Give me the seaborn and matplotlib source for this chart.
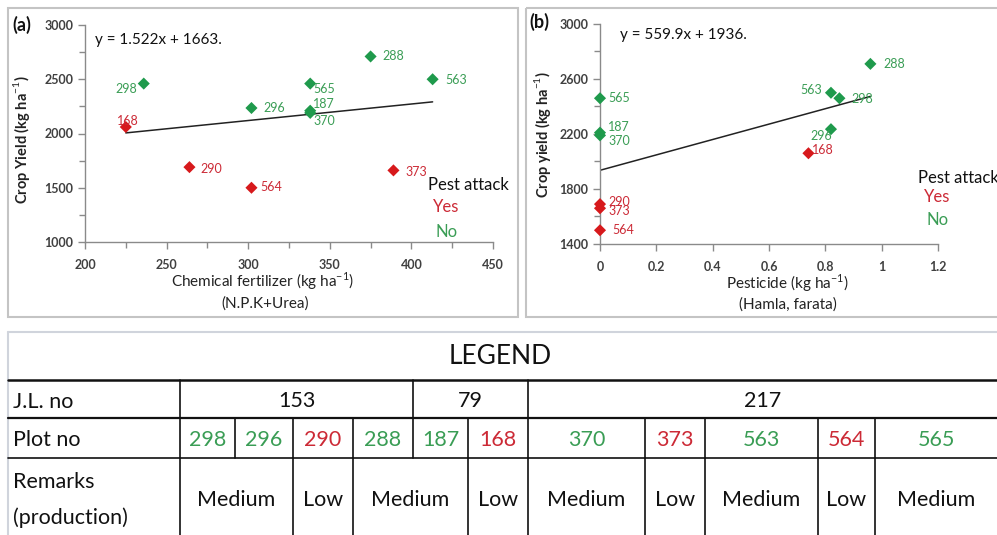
import matplotlib
matplotlib.use('Agg')
import matplotlib.pyplot as plt
import seaborn as sns
import pandas as pd
from matplotlib.ticker import MultipleLocator
from matplotlib.patches import Rectangle

# data
plots = ['298', '296', '290', '288', '187', '168', '370', '373', '563', '564', '565']
fertilizer = [236, 302, 264, 375, 338, 225, 338, 389, 413, 302, 338]
pesticide = [0.85, 0.82, 0, 0.96, 0, 0.74, 0, 0, 0.82, 0, 0]
crop_yield = [2460, 2235, 1690, 2710, 2210, 2060, 2190, 1660, 2500, 1500, 2460]
pest_attack = ['No', 'No', 'Yes', 'No', 'No', 'Yes', 'No', 'Yes', 'No', 'Yes', 'No']
fit_a = (1.522, 1663)
fit_b = (559.9, 1936)

jl_groups = [('153', 4), ('79', 2), ('217', 5)]
remarks = [('Medium', 2), ('Low', 1), ('Medium', 2), ('Low', 1), ('Medium', 1),
           ('Low', 1), ('Medium', 1), ('Low', 1), ('Medium', 1)]

df = pd.DataFrame({'plot': plots, 'fert': fertilizer, 'pest': pesticide,
                   'yield': crop_yield, 'attack': pest_attack})

GREEN = '#1f9a4c'
RED = '#d7191c'
TGREEN = '#3a9d55'
TRED = '#cc2a36'
palette = {'No': GREEN, 'Yes': RED}

sns.set_theme(style='white')
plt.rcParams['font.family'] = ['Lato', 'DejaVu Sans']
plt.rcParams['mathtext.fontset'] = 'custom'
plt.rcParams['mathtext.rm'] = 'Lato'
plt.rcParams['mathtext.bf'] = 'Lato:bold'

W, H = 997, 535
fig = plt.figure(figsize=(W / 100, H / 100), dpi=100)


def px_axes(l, t, r, b):
    return fig.add_axes([l / W, 1 - b / H, (r - l) / W, (b - t) / H])


# overlay for frames, table and free text (pixel coords)
ov = fig.add_axes([0, 0, 1, 1], zorder=-1)
ov.set_xlim(0, W)
ov.set_ylim(H, 0)
ov.axis('off')

ax1 = px_axes(85, 25, 493, 242)
ax2 = px_axes(600, 24, 938, 244)

# label offsets in pixels (dx, dy, ha)
off_a = {'298': (-7, -5, 'right'), '296': (12, 0, 'left'), '290': (11, -2, 'left'),
         '288': (12, 0, 'left'), '187': (3, 7, 'left'), '168': (2, 6, 'center'),
         '370': (3, -8, 'left'), '373': (12, -2, 'left'), '563': (13, -1, 'left'),
         '564': (9, 1, 'left'), '565': (3, -5, 'left')}
off_b = {'298': (12, -1, 'left'), '296': (1, -7, 'right'), '290': (8, 2, 'left'),
         '288': (13, 0, 'left'), '187': (8, 6, 'left'), '168': (4, 3, 'left'),
         '370': (8, -6, 'left'), '373': (8, -3, 'left'), '563': (-9, 3, 'right'),
         '564': (12, 0, 'left'), '565': (8, 0, 'left')}

for ax, xcol, fit, offs in [(ax1, 'fert', fit_a, off_a), (ax2, 'pest', fit_b, off_b)]:
    sns.scatterplot(data=df, x=xcol, y='yield', hue='attack', palette=palette,
                    marker='D', s=38, edgecolor='none', legend=False, ax=ax, zorder=3,
                    clip_on=False)
    xs = [df[xcol].min(), df[xcol].max()]
    ax.plot(xs, [fit[0] * v + fit[1] for v in xs], color='#222222', lw=1.1, zorder=2)
    for _, r in df.iterrows():
        dx, dy, ha = offs[r['plot']]
        ax.annotate(r['plot'], (r[xcol], r['yield']), xytext=(dx, dy),
                    textcoords='offset pixels', ha=ha, va='center', fontsize=9,
                    color=TGREEN if r['attack'] == 'No' else TRED, zorder=4)
    for s in ['top', 'right']:
        ax.spines[s].set_visible(False)
    for s in ['left', 'bottom']:
        ax.spines[s].set_color('#8a8a8a')
        ax.spines[s].set_linewidth(1.0)
    ax.tick_params(which='both', direction='out', color='#8a8a8a', left=True, bottom=True)
    ax.tick_params(which='major', length=5, width=1, labelsize=9, labelcolor='#404040')
    ax.tick_params(which='minor', length=4, width=1)
    ax.tick_params(axis='x', pad=7)
    ax.set_xlabel('')
    ax.set_ylabel('')
    ax.grid(False)
    ax.patch.set_alpha(0)

ax1.set_xlim(200, 450)
ax1.set_ylim(1000, 3000)
ax1.xaxis.set_major_locator(MultipleLocator(50))
ax1.xaxis.set_minor_locator(MultipleLocator(25))
ax1.yaxis.set_major_locator(MultipleLocator(500))
ax1.yaxis.set_minor_locator(MultipleLocator(250))

ax2.set_xlim(0, 1.2)
ax2.set_ylim(1400, 3000)
ax2.set_yticks([1400, 1800, 2200, 2600, 3000])
ax2.set_yticks([1600, 2000, 2400, 2800], minor=True)
ax2.set_xticks([0, 0.2, 0.4, 0.6, 0.8, 1.0, 1.2])
ax2.set_xticklabels(['0', '0.2', '0.4', '0.6', '0.8', '1', '1.2'])
for ax in (ax1, ax2):
    for lab in ax.get_xticklabels() + ax.get_yticklabels():
        lab.set_fontweight('bold')

# panel frames
ov.add_patch(Rectangle((8, 8), 510, 309, fill=False, ec='#c4c4c4', lw=1.5))
ov.add_patch(Rectangle((526, 8), 480, 309, fill=False, ec='#c4c4c4', lw=1.5))

# panel texts
ov.text(12, 25, '(a)', fontsize=13, fontweight='bold', va='center', color='#111111')
ov.text(529, 22, '(b)', fontsize=13, fontweight='bold', va='center', color='#111111')
ov.text(95, 40, f'y = {fit_a[0]}x + {fit_a[1]}.', fontsize=11, va='center', color='#111111')
ov.text(620, 35, f'y = {fit_b[0]}x + {fit_b[1]}.', fontsize=11, va='center', color='#111111')

ov.text(22, 140, r'Crop Yield (kg ha$^{-1}$)', rotation=90, ha='center', va='center',
        fontsize=10.5, fontweight='bold', color='#222222')
ov.text(542, 135, r'Crop yield (kg ha$^{-1}$)', rotation=90, ha='center', va='center',
        fontsize=10.5, fontweight='bold', color='#222222')
ov.text(263, 281, r'Chemical fertilizer (kg ha$^{-1}$)', ha='center', va='center',
        fontsize=11, color='#222222')
ov.text(265, 304, '(N.P.K+Urea)', ha='center', va='center', fontsize=11, color='#222222')
ov.text(787, 283, r'Pesticide (kg ha$^{-1}$)', ha='center', va='center',
        fontsize=11, color='#222222')
ov.text(788, 305, '(Hamla, farata)', ha='center', va='center', fontsize=11, color='#222222')

ov.text(428, 185, 'Pest attack', fontsize=12, va='center', color='#111111')
ov.text(433, 207, 'Yes', fontsize=12, va='center', color=TRED)
ov.text(435, 232, 'No', fontsize=12, va='center', color=TGREEN)
ov.text(918, 178, 'Pest attack', fontsize=12, va='center', color='#111111', clip_on=False)
ov.text(924, 197, 'Yes', fontsize=12, va='center', color=TRED)
ov.text(926, 220, 'No', fontsize=12, va='center', color=TGREEN)

# legend table
cols = [180, 235, 293, 353, 413, 468, 528, 645, 705, 818, 875, 997]
ov.plot([8, W], [332, 332], color='#d0d4dc', lw=1.5)
ov.plot([8, 8], [332, H], color='#d0d4dc', lw=1.5)
ov.plot([8, W], [380, 380], color='#111111', lw=1.8)
ov.plot([8, W], [418, 418], color='#111111', lw=1.6)
ov.plot([8, W], [458, 458], color='#111111', lw=1.2)
ov.plot([180, 180], [380, H], color='#111111', lw=1.2)
ov.text(W / 2 + 2, 356, 'LEGEND', ha='center', va='center', fontsize=19, color='#111111')
ov.text(13, 402, 'J.L. no', va='center', fontsize=15.5, color='#111111')
ov.text(13, 440, 'Plot no', va='center', fontsize=15.5, color='#111111')
ov.text(13, 482, 'Remarks', va='center', fontsize=15.5, color='#111111')
ov.text(13, 518, '(production)', va='center', fontsize=15.5, color='#111111')

i = 0
for name, n in jl_groups:
    l, r = cols[i], cols[i + n]
    ov.text((l + r) / 2, 401, name, ha='center', va='center', fontsize=15.5, color='#111111')
    if i + n < len(cols) - 1:
        ov.plot([r, r], [380, 418], color='#111111', lw=1.2)
    i += n

for j, (p, a) in enumerate(zip(plots, pest_attack)):
    l, r = cols[j], cols[j + 1]
    ov.text((l + r) / 2, 440, p, ha='center', va='center', fontsize=15.5,
            color=TGREEN if a == 'No' else TRED)
    if j < len(plots) - 1:
        ov.plot([r, r], [418, 458], color='#111111', lw=1.2)

i = 0
for name, n in remarks:
    l, r = cols[i], cols[i + n]
    ov.text((l + r) / 2, 500, name, ha='center', va='center', fontsize=15.5, color='#111111')
    if i + n < len(cols) - 1:
        ov.plot([r, r], [458, H], color='#111111', lw=1.2)
    i += n

fig.savefig('out.png', dpi=100)
